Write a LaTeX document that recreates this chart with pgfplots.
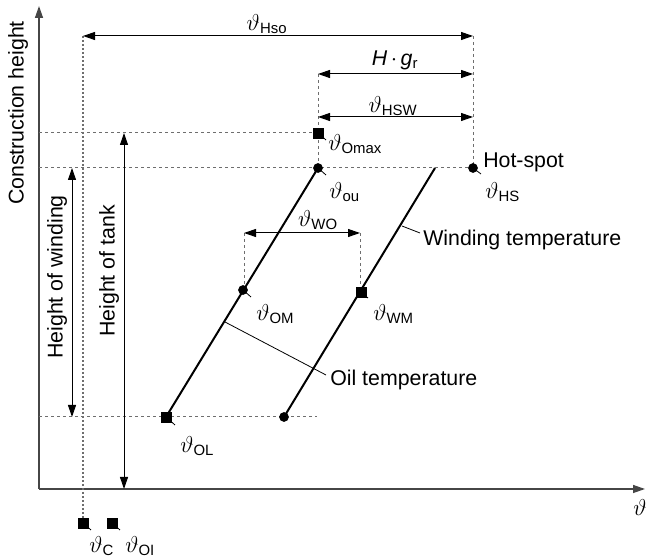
\documentclass[border=0pt]{standalone}
\usepackage{fontspec}
\setmainfont{Liberation Sans}
\usepackage{amsmath}
\usepackage{pgfplots}
\pgfplotsset{compat=1.18}
\usetikzlibrary{arrows.meta}

\definecolor{axgray}{RGB}{70,70,70}
\definecolor{dashgray}{RGB}{110,110,110}

\tikzset{
  tip/.tip={Triangle[length=9pt,width=6pt]},
  arr/.style={-tip, line width=0.75pt},
  darr/.style={tip-tip, line width=0.75pt},
  dashl/.style={dashgray, line width=0.75pt, dash pattern=on 2.5pt off 2pt},
  dotl/.style={dashgray, line width=0.9pt, dash pattern=on 1.5pt off 1.5pt},
  lead/.style={black, line width=0.6pt},
}

\newcommand{\vt}[1]{$\vartheta_{\text{#1}}$}

\begin{document}
\begin{tikzpicture}[font=\fontsize{16}{19}\selectfont]
\begin{axis}[
  name=ax, hide axis, scale only axis,
  width=484.5pt, height=419.25pt,
  xmin=0, xmax=646, ymin=0, ymax=559,
  clip=false,
]
% axes
\addplot[arr, axgray, line width=1pt] coordinates {(39,70) (39,553)};
\addplot[arr, axgray, line width=1pt] coordinates {(39,70) (645,70)};

% dashed construction lines
\addplot[dashl] coordinates {(39,426) (318,426)};
\addplot[dashl] coordinates {(39,391) (473,391)};
\addplot[dashl] coordinates {(39,142) (317,142)};
\addplot[dotl] coordinates {(83,523) (83,36)};
\addplot[dashl] coordinates {(318,485) (318,391)};
\addplot[dashl] coordinates {(473,523) (473,391)};
\addplot[dashl] coordinates {(244,326) (244,269)};
\addplot[dashl] coordinates {(360,326) (360,267)};

% dimension arrows
\addplot[darr] coordinates {(83,523) (473,523)};
\addplot[darr] coordinates {(318,485) (473,485)};
\addplot[darr] coordinates {(318,442) (473,442)};
\addplot[darr] coordinates {(244,326) (360,326)};
\addplot[darr] coordinates {(72,391) (72,142)};
\addplot[darr] coordinates {(124,426) (124,70)};

% temperature profiles
\addplot[black, line width=1.5pt] coordinates {(166,142) (318,391)};
\addplot[black, line width=1.5pt] coordinates {(284,142) (435,391)};

% leader lines
\addplot[lead] coordinates {(318,426) (326,419)};
\addplot[lead] coordinates {(318,391) (326,384)};
\addplot[lead] coordinates {(473,391) (481,385)};
\addplot[lead] coordinates {(243,269) (251,262)};
\addplot[lead] coordinates {(361,267) (368,261)};
\addplot[lead] coordinates {(166,142) (175,134)};
\addplot[lead] coordinates {(83,36) (91,29)};
\addplot[lead] coordinates {(112,36) (120,29)};
\addplot[lead] coordinates {(225,237) (326,184)};
\addplot[lead] coordinates {(402,333) (420,326)};

% markers
\addplot[only marks, mark=square*, mark size=3.6pt, black]
  coordinates {(318,426) (166,142) (361,267) (83,36) (112,36)};
\addplot[only marks, mark=*, mark size=3.4pt, black]
  coordinates {(318,391) (473,391) (243,269) (284,142)};

% labels
\node at (axis cs:267,535) {\vt{Hso}};
\node at (axis cs:395,499) {\textit{H}\,$\cdot$\,\textit{g}\textsubscript{r}};
\node at (axis cs:393,453) {\vt{HSW}};
\node[anchor=west, inner sep=0pt] at (axis cs:328,415) {\vt{Omax}};
\node[anchor=west, inner sep=0pt] at (axis cs:329,367) {\vt{ou}};
\node[anchor=west, inner sep=0pt] at (axis cs:483,397) {Hot-spot};
\node[anchor=west, inner sep=0pt] at (axis cs:485,367) {\vt{HS}};
\node[anchor=west, inner sep=0pt] at (axis cs:423,319) {Winding temperature};
\node at (axis cs:318,339) {\vt{WO}};
\node[anchor=west, inner sep=0pt] at (axis cs:256,245) {\vt{OM}};
\node[anchor=west, inner sep=0pt] at (axis cs:373,245) {\vt{WM}};
\node[anchor=west, inner sep=0pt] at (axis cs:330,179) {Oil temperature};
\node[anchor=west, inner sep=0pt] at (axis cs:180,113) {\vt{OL}};
\node[anchor=west, inner sep=0pt] at (axis cs:89,13) {\vt{C}};
\node[anchor=west, inner sep=0pt] at (axis cs:125,13) {\vt{OI}};
\node at (axis cs:640,51) {$\vartheta$};
\node[rotate=90] at (axis cs:18,446) {Construction height};
\node[rotate=90] at (axis cs:57,282) {Height of winding};
\node[rotate=90] at (axis cs:109,288) {Height of tank};
\end{axis}
\pgfresetboundingbox
\path (ax.south west) rectangle (ax.north east);
\end{tikzpicture}
\end{document}
